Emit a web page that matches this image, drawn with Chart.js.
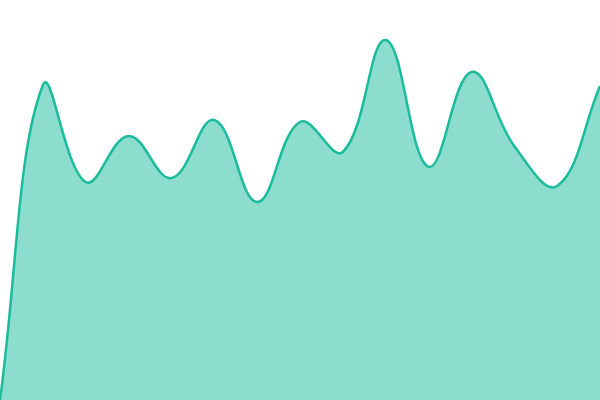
<!DOCTYPE html>
<html>
<head>
<meta charset="utf-8">
<script src="https://cdn.jsdelivr.net/npm/chart.js@4/dist/chart.umd.min.js"></script>
<style>
  html, body { margin: 0; padding: 0; background: #fff; }
  #contenedor { width: 600px; height: 400px; }
</style>
</head>
<body>
<div id="contenedor"><canvas id="grafico-area"></canvas></div>
<script>
// Datos
const etiquetas = ['1', '2', '3', '4', '5', '6', '7', '8', '9', '10', '11', '12', '13', '14', '15'];
const valores = [0, 78.7, 54.5, 66, 55.5, 70, 49.5, 69.5, 62, 90, 58.3, 82, 63.5, 53.5, 78.5];

const ctx = document.getElementById('grafico-area');

new Chart(ctx, {
    type: 'line',
    data: {
        labels: etiquetas,
        datasets: [{
            data: valores,
            borderColor: '#1abc9c',
            backgroundColor: 'rgba(26, 188, 156, 0.5)',
            borderWidth: 2.5,
            fill: true,
            tension: 0.4,
            pointRadius: 0
        }]
    },
    options: {
        responsive: true,
        maintainAspectRatio: false,
        animation: false,
        layout: { padding: 0 },
        plugins: {
            legend: { display: false },
            tooltip: { enabled: false }
        },
        scales: {
            x: { display: false },
            y: { display: false, min: 0, max: 100 }
        }
    }
});
</script>
</body>
</html>
